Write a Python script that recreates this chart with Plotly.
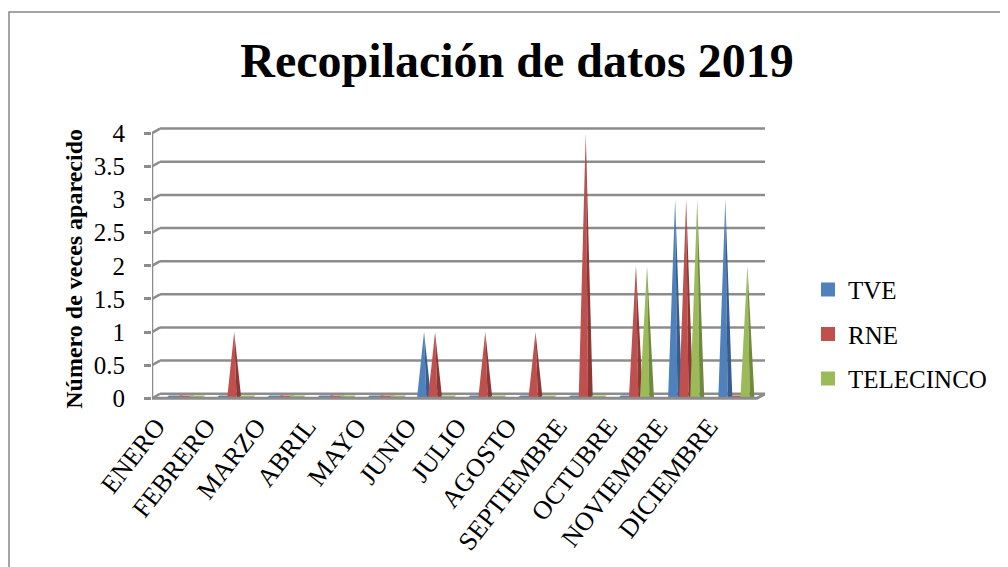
import plotly.graph_objects as go

# ---------------- data ----------------
months = ["ENERO", "FEBRERO", "MARZO", "ABRIL", "MAYO", "JUNIO", "JULIO",
          "AGOSTO", "SEPTIEMBRE", "OCTUBRE", "NOVIEMBRE", "DICIEMBRE"]
series_names = ["TVE", "RNE", "TELECINCO"]
tve = [0, 0, 0, 0, 0, 1, 0, 0, 0, 0, 3, 3]
rne = [0, 1, 0, 0, 0, 1, 1, 1, 4, 2, 3, 0]
telecinco = [0, 0, 0, 0, 0, 0, 0, 0, 0, 2, 3, 2]
y_ticks = [0, 0.5, 1, 1.5, 2, 2.5, 3, 3.5, 4]

# ---------------- styles ----------------
light = ["#4F81BD", "#C0504D", "#9BBB59"]
dark = ["#385D8A", "#8C3836", "#71893F"]
offsets = [-0.22, 0.0, 0.22]
cone_w = 0.28
depth_dx, depth_dy = 0.16, 0.07
FONT = "Liberation Serif"
GRID = "#8C8C8C"

# page body has an 8px margin -> work in page pixels, shift by 8
OFF = 8
W, H = 1008 - OFF, 567 - OFF
L, R = 152 - OFF, 765 - OFF
X_RANGE = [-0.637, 11.57]
Y_RANGE = [-0.1, 4.2]
PX_PER_UNIT = 66.2
Y0_PX = 398.5 - OFF
top_px = Y0_PX - Y_RANGE[1] * PX_PER_UNIT
bot_px = Y0_PX - Y_RANGE[0] * PX_PER_UNIT


def px_to_paper_x(px):
    return (px - OFF - L) / (R - L)


def px_to_paper_y(py):
    return (bot_px - (py - OFF)) / (bot_px - top_px)


fig = go.Figure()

all_values = [tve, rne, telecinco]
for s, (name, vals) in enumerate(zip(series_names, all_values)):
    lx, ly, dx_, dy_ = [], [], [], []
    for i, v in enumerate(vals):
        c = i + offsets[s]
        if v > 0:
            lx += [c - cone_w / 2, c, c + cone_w / 6, None]
            ly += [0, v, 0, None]
            dx_ += [c + cone_w / 6, c, c + cone_w / 2, None]
            dy_ += [0, v, 0, None]
        else:
            # flat strip on the 3D floor
            lx += [c - cone_w / 2, c + cone_w / 2, c + cone_w / 2 + 0.06,
                   c - cone_w / 2 + 0.06, None]
            ly += [0.0, 0.0, 0.045, 0.045, None]
    fig.add_trace(go.Scatter(x=lx, y=ly, fill="toself", mode="lines",
                             line=dict(width=0, color=light[s]),
                             fillcolor=light[s], showlegend=False,
                             legendgroup=name, hoverinfo="skip"))
    if dx_:
        fig.add_trace(go.Scatter(x=dx_, y=dy_, fill="toself", mode="lines",
                                 line=dict(width=0, color=dark[s]),
                                 fillcolor=dark[s], showlegend=False,
                                 legendgroup=name, hoverinfo="skip"))
    fig.add_trace(go.Scatter(x=[None], y=[None], mode="markers", name=name,
                             legendgroup=name,
                             marker=dict(symbol="square", size=14,
                                         color=light[s])))

shapes = []
# back-wall gridlines with 3D stubs
for v in y_ticks:
    shapes.append(dict(type="line", xref="x", yref="y",
                       x0=X_RANGE[0] + depth_dx, x1=X_RANGE[1],
                       y0=v + depth_dy, y1=v + depth_dy,
                       line=dict(color=GRID, width=2.5), layer="below"))
    shapes.append(dict(type="line", xref="x", yref="y",
                       x0=X_RANGE[0], x1=X_RANGE[0] + depth_dx,
                       y0=v, y1=v + depth_dy,
                       line=dict(color=GRID, width=2.5), layer="below"))
# front vertical axis line
shapes.append(dict(type="line", xref="x", yref="y",
                   x0=X_RANGE[0], x1=X_RANGE[0], y0=0, y1=y_ticks[-1],
                   line=dict(color=GRID, width=2.5)))
# floor front edge
front_end = X_RANGE[1] - depth_dx
shapes.append(dict(type="path", xref="x", yref="y",
                   path=f"M {X_RANGE[0]},0 L {front_end},0 L {X_RANGE[1]},{depth_dy}",
                   line=dict(color=GRID, width=3)))
# outer chart border
shapes.append(dict(type="rect", xref="paper", yref="paper",
                   x0=px_to_paper_x(9), x1=px_to_paper_x(1015),
                   y0=px_to_paper_y(580), y1=px_to_paper_y(12.5),
                   line=dict(color="#868686", width=1.5)))

fig.update_layout(
    width=W, height=H,
    paper_bgcolor="white", plot_bgcolor="rgba(0,0,0,0)",
    margin=dict(l=L, r=W - R, t=top_px, b=H - bot_px, pad=0),
    shapes=shapes,
    title=dict(text="<b>Recopilación de datos 2019</b>",
               font=dict(family=FONT, size=48, color="black"),
               x=(517 - OFF) / W, xanchor="center",
               y=1 - (60 - OFF) / H, yanchor="middle"),
    font=dict(family=FONT, color="black", size=20),
    xaxis=dict(range=X_RANGE, showgrid=False, zeroline=False,
               tickvals=[i - 0.55 for i in range(len(months))],
               ticktext=months, tickangle=-52, ticks="",
               ticklabelstandoff=0,
               tickfont=dict(family=FONT, size=26, color="black"),
               fixedrange=True),
    yaxis=dict(range=Y_RANGE, showgrid=False, zeroline=False,
               tickvals=y_ticks, ticktext=[f"{t:g}" for t in y_ticks],
               ticks="outside", ticklen=7, tickwidth=2.5, tickcolor=GRID,
               ticklabelstandoff=14,
               tickfont=dict(family=FONT, size=25, color="black"),
               fixedrange=True),
    legend=dict(x=px_to_paper_x(808), y=px_to_paper_y(267),
                xanchor="left", yanchor="top",
                font=dict(family=FONT, size=25, color="black"),
                tracegroupgap=9, bgcolor="rgba(0,0,0,0)",
                itemwidth=30),
    annotations=[dict(text="<b>Número de veces aparecido</b>",
                      xref="paper", yref="paper",
                      x=px_to_paper_x(74), y=px_to_paper_y(269),
                      xanchor="center", yanchor="middle", textangle=-90,
                      showarrow=False,
                      font=dict(family=FONT, size=24, color="black"))],
)

fig.write_html("out.html")
